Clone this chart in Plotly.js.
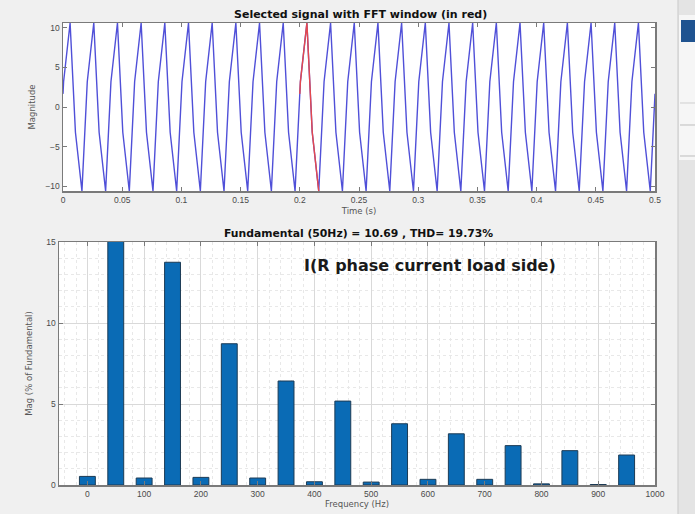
<!DOCTYPE html>
<html>
<head>
<meta charset="utf-8">
<script src="https://cdn.plot.ly/plotly-3.0.1.min.js"></script>
<style>
  html, body { margin: 0; padding: 0; background: #f0f0f0; }
  #chart { width: 695px; height: 514px; }
</style>
</head>
<body>
<div id="chart"></div>
<script>
// ---- Signal: one 20 ms period, repeated over 0..0.5 s ----
const cycleTime  = [0, 0.0005, 0.006, 0.0105, 0.016];   // s, offsets within one period
const cycleValue = [1.66, 3.2, 10.62, -3.2, -10.62];    // magnitude at those offsets
const signalPeriod = 0.02;
const numCycles = 25;
const endValue = 1.66;         // value at t = 0.5 s
const fftWindowStart = 0.2;    // red FFT window (drawn from 0.2 s down to the next trough)

// ---- Spectrum ----
const freqHz = [0, 50, 100, 150, 200, 250, 300, 350, 400, 450, 500, 550, 600, 650, 700, 750, 800, 850, 900, 950];
const magPct = [0.53, 100, 0.43, 13.75, 0.47, 8.72, 0.43, 6.42, 0.2, 5.18, 0.18, 3.78, 0.35, 3.16, 0.35, 2.43, 0.07, 2.12, 0.03, 1.85];

const timeTicks = [0, 0.05, 0.1, 0.15, 0.2, 0.25, 0.3, 0.35, 0.4, 0.45, 0.5];
const timeTickText = ['0', '0.05', '0.1', '0.15', '0.2', '0.25', '0.3', '0.35', '0.4', '0.45', '0.5'];
const magTicks = [-10, -5, 0, 5, 10];
const freqTicks = [0, 100, 200, 300, 400, 500, 600, 700, 800, 900, 1000];
const pctTicks = [0, 5, 10, 15];

const topTitle = 'Selected signal with FFT window (in red)';
const bottomTitle = 'Fundamental (50Hz) = 10.69 , THD= 19.73%';
const labelText = 'I(R phase current load side)';

// build the time series by repeating the read cycle
const sigT = [], sigY = [];
for (let n = 0; n < numCycles; n++) {
  for (let k = 0; k < cycleTime.length; k++) {
    sigT.push(+(n * signalPeriod + cycleTime[k]).toFixed(6));
    sigY.push(cycleValue[k]);
  }
}
sigT.push(numCycles * signalPeriod); sigY.push(endValue);

const winT = [], winY = [];
const wStart = Math.round(fftWindowStart / signalPeriod);
for (let k = 0; k < cycleTime.length; k++) {
  winT.push(+(wStart * signalPeriod + cycleTime[k]).toFixed(6));
  winY.push(cycleValue[k]);
}

const W = 695, H = 514;
const px = v => v / W;
const py = v => 1 - v / H;

const tickFont = { family: 'Liberation Sans, Arial, sans-serif', size: 8.5, color: '#4a4a4a' };
const labFont = { family: 'DejaVu Sans, sans-serif', size: 8.5, color: '#555' };
const axisCommon = {
  showline: true, linecolor: '#7a7a7a', linewidth: 1.5, mirror: 'ticks',
  ticks: 'inside', ticklen: 4, tickcolor: '#7a7a7a', tickwidth: 1,
  tickfont: tickFont, zeroline: false
};

const traces = [
  { x: sigT, y: sigY, type: 'scatter', mode: 'lines', xaxis: 'x', yaxis: 'y',
    line: { color: '#5050d8', width: 1.4 }, hoverinfo: 'skip' },
  { x: winT, y: winY, type: 'scatter', mode: 'lines', xaxis: 'x', yaxis: 'y',
    line: { color: '#e5484d', width: 1.4 }, hoverinfo: 'skip' },
  { x: freqHz, y: magPct, type: 'bar', xaxis: 'x2', yaxis: 'y2', width: 28,
    marker: { color: '#0a6bb5', line: { color: '#1c3b55', width: 1 } }, hoverinfo: 'skip' }
];

const layout = {
  width: W, height: H,
  margin: { l: 0, r: 0, t: 0, b: 0 },
  paper_bgcolor: '#f0f0f0',
  plot_bgcolor: '#ffffff',
  showlegend: false,
  xaxis: Object.assign({}, axisCommon, {
    domain: [px(63), px(655)], range: [0, 0.5], anchor: 'y',
    tickvals: timeTicks, ticktext: timeTickText, showgrid: false,
    title: { text: 'Time (s)', font: labFont, standoff: 4 }
  }),
  yaxis: Object.assign({}, axisCommon, {
    domain: [py(191), py(23)], range: [-10.62, 10.62], anchor: 'x',
    tickvals: magTicks, showgrid: false,
    title: { text: 'Magnitude', font: labFont, standoff: 8 }
  }),
  xaxis2: Object.assign({}, axisCommon, {
    domain: [px(59), px(655)], range: [-50, 1000], anchor: 'y2',
    tickvals: freqTicks, showgrid: true, gridcolor: '#d9d9d9', gridwidth: 1,
    minor: { dtick: 20, showgrid: true, gridcolor: '#e8e8e8', griddash: 'dot', ticks: '' },
    title: { text: 'Frequency (Hz)', font: labFont, standoff: 3 }
  }),
  yaxis2: Object.assign({}, axisCommon, {
    domain: [py(485), py(242)], range: [0, 15], anchor: 'x2',
    tickvals: pctTicks, showgrid: true, gridcolor: '#d9d9d9', gridwidth: 1,
    minor: { dtick: 1, showgrid: true, gridcolor: '#e8e8e8', griddash: 'dot', ticks: '' },
    title: { text: 'Mag (% of Fundamental)', font: labFont, standoff: 12 }
  }),
  annotations: [
    { text: '<b>' + topTitle + '</b>', xref: 'paper', yref: 'paper', x: px(360), y: py(14),
      xanchor: 'center', yanchor: 'middle', showarrow: false,
      font: { family: 'DejaVu Sans, sans-serif', size: 11, color: '#111' } },
    { text: '<b>' + bottomTitle + '</b>', xref: 'paper', yref: 'paper', x: px(358), y: py(234),
      xanchor: 'center', yanchor: 'middle', showarrow: false,
      font: { family: 'DejaVu Sans, sans-serif', size: 10.8, color: '#111' } },
    { text: '<b>' + labelText + '</b>', xref: 'paper', yref: 'paper', x: px(430), y: py(265),
      xanchor: 'center', yanchor: 'middle', showarrow: false,
      font: { family: 'DejaVu Sans, sans-serif', size: 16, color: '#1a1a1a' } }
  ],
  shapes: [
    { type: 'rect', xref: 'paper', yref: 'paper', x0: px(678), x1: 1, y0: 0, y1: 1,
      fillcolor: '#e4e4e4', line: { width: 0 }, layer: 'below' },
    { type: 'rect', xref: 'paper', yref: 'paper', x0: px(679), x1: 1, y0: py(160), y1: py(15),
      fillcolor: '#f6f6f6', line: { width: 0 }, layer: 'below' },
    { type: 'line', xref: 'paper', yref: 'paper', x0: px(678), x1: px(678), y0: 0, y1: 1,
      line: { color: '#c9c9c9', width: 1 } },
    { type: 'rect', xref: 'paper', yref: 'paper', x0: px(681), x1: 1, y0: py(42), y1: py(20),
      fillcolor: '#1f5390', line: { width: 0 } },
    { type: 'line', xref: 'paper', yref: 'paper', x0: px(680), x1: 1, y0: py(103), y1: py(103),
      line: { color: '#cfcfcf', width: 1 } },
    { type: 'line', xref: 'paper', yref: 'paper', x0: px(680), x1: 1, y0: py(125), y1: py(125),
      line: { color: '#bdbdbd', width: 1 } },
    { type: 'line', xref: 'paper', yref: 'paper', x0: px(680), x1: 1, y0: py(156), y1: py(156),
      line: { color: '#bdbdbd', width: 1 } }
  ]
};

Plotly.newPlot('chart', traces, layout, { displayModeBar: false, staticPlot: true });
</script>
</body>
</html>
